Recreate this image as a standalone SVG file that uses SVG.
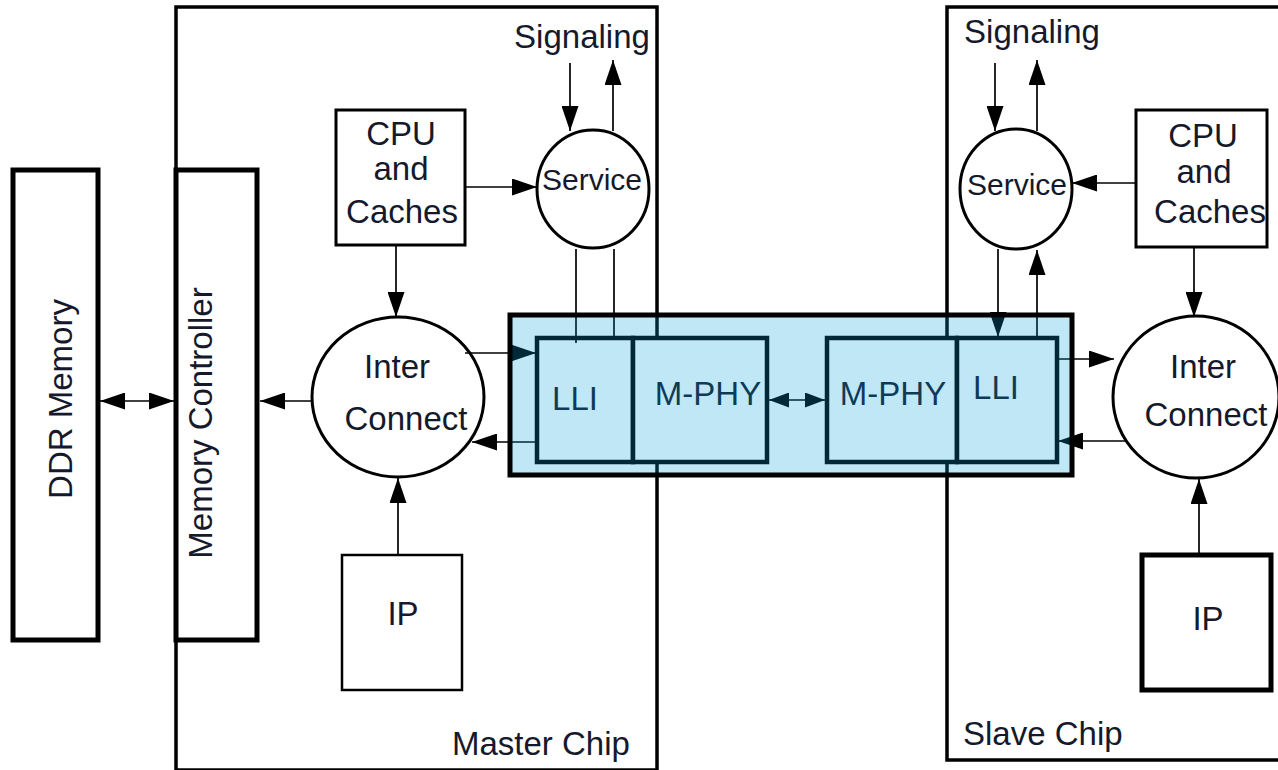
<svg xmlns="http://www.w3.org/2000/svg" width="1278" height="770" viewBox="0 0 1278 770">
<defs>
<marker id="ah" viewBox="0 0 25 17" refX="25" refY="8.5" markerWidth="25" markerHeight="17" markerUnits="userSpaceOnUse" orient="auto-start-reverse">
<path d="M0,0 L25,8.5 L0,17 z" fill="#000"/>
</marker>
<marker id="ahs" viewBox="0 0 20 15" refX="20" refY="7.5" markerWidth="20" markerHeight="15" markerUnits="userSpaceOnUse" orient="auto-start-reverse">
<path d="M0,0 L20,7.5 L0,15 z" fill="#000"/>
</marker>
<style>
text{font-family:"Liberation Sans",Arial,sans-serif;fill:#15192b;font-size:33px}
.mid{text-anchor:middle}
.chip{fill:none;stroke:#000;stroke-width:3.5}
.thick{fill:#fff;stroke:#000;stroke-width:5}
.box{fill:#fff;stroke:#000;stroke-width:3}
.circ{fill:#fff;stroke:#000;stroke-width:3}
.lb{fill:#fff;stroke:#000;stroke-width:4.5}
.c{fill:none;stroke:#000;stroke-width:1.7}
.a{marker-end:url(#ah)}
.a2{marker-start:url(#ah);marker-end:url(#ah)}
.a2s{marker-start:url(#ahs);marker-end:url(#ahs)}
</style>
</defs>
<rect width="1278" height="770" fill="#fff"/>

<g id="master-chip">
<rect class="chip" x="176" y="7" width="481" height="763"/>
<text x="452" y="755">Master Chip</text>
</g>
<g id="slave-chip">
<rect class="chip" x="947" y="7" width="340" height="753"/>
<text x="963" y="745">Slave Chip</text>
</g>

<g id="ddr-memory">
<rect class="thick" x="13" y="170" width="85" height="470"/>
<text class="mid" x="72" y="399" transform="rotate(-90 72 399)">DDR Memory</text>
</g>
<g id="memory-controller">
<rect class="thick" x="176" y="170" width="81" height="470"/>
<text class="mid" x="212" y="423" transform="rotate(-90 212 423)">Memory Controller</text>
</g>

<g id="master-cpu">
<rect class="box" x="336" y="110" width="129" height="135"/>
<text class="mid" x="401" y="145">CPU</text>
<text class="mid" x="401" y="180">and</text>
<text class="mid" x="402" y="223">Caches</text>
</g>
<g id="master-service">
<ellipse class="circ" cx="593" cy="189" rx="56" ry="59"/>
<text class="mid" x="592" y="190" style="font-size:30px">Service</text>
</g>
<text id="master-signaling" class="mid" x="582" y="48">Signaling</text>
<g id="master-interconnect">
<ellipse class="circ" cx="398" cy="397" rx="86" ry="80"/>
<text class="mid" x="397" y="378">Inter</text>
<text class="mid" x="406" y="430">Connect</text>
</g>
<g id="master-ip">
<rect class="box" x="342" y="555" width="120" height="135" style="stroke-width:2.5"/>
<text class="mid" x="403" y="625">IP</text>
</g>

<g id="slave-cpu">
<rect class="box" x="1136" y="110" width="131" height="137"/>
<text class="mid" x="1203" y="147">CPU</text>
<text class="mid" x="1204" y="183">and</text>
<text class="mid" x="1210" y="223">Caches</text>
</g>
<g id="slave-service">
<ellipse class="circ" cx="1016" cy="189" rx="56" ry="60"/>
<text class="mid" x="1017" y="195" style="font-size:30px">Service</text>
</g>
<text id="slave-signaling" class="mid" x="1032" y="43">Signaling</text>
<g id="slave-interconnect">
<ellipse class="circ" cx="1196" cy="397" rx="83" ry="81"/>
<text class="mid" x="1203" y="378">Inter</text>
<text class="mid" x="1206" y="426">Connect</text>
</g>
<g id="slave-ip">
<rect class="thick" x="1142" y="555" width="129" height="135"/>
<text class="mid" x="1208" y="630">IP</text>
</g>

<g id="master-lli">
<rect class="lb" x="537" y="338" width="96" height="124"/>
<text class="mid" x="575" y="410">LLI</text>
</g>
<g id="master-mphy">
<rect class="lb" x="633" y="338" width="134" height="124"/>
<text class="mid" x="708" y="405">M-PHY</text>
</g>
<g id="slave-mphy">
<rect class="lb" x="827" y="338" width="130" height="124"/>
<text class="mid" x="893" y="405">M-PHY</text>
</g>
<g id="slave-lli">
<rect class="lb" x="957" y="338" width="100" height="124"/>
<text class="mid" x="996" y="399">LLI</text>
</g>

<g id="connectors">
<line class="c a2" x1="100" y1="401" x2="174" y2="401"/>
<line class="c a" x1="312" y1="401" x2="260" y2="401"/>
<line class="c a" x1="396" y1="246" x2="396" y2="317"/>
<line class="c a" x1="398" y1="555" x2="398" y2="478"/>
<line class="c a" x1="465" y1="187" x2="537" y2="187"/>
<line class="c a" x1="570" y1="63" x2="570" y2="131"/>
<line class="c a" x1="613" y1="131" x2="613" y2="60"/>
<line class="c" x1="576" y1="249" x2="576" y2="343"/>
<line class="c" x1="614" y1="249" x2="614" y2="338"/>
<line class="c a" x1="465" y1="353" x2="536" y2="353"/>
<line class="c a" x1="537" y1="442" x2="472" y2="442"/>
<line class="c a2s" x1="769" y1="400" x2="825" y2="400"/>
<line class="c a" x1="995" y1="63" x2="995" y2="131"/>
<line class="c a" x1="1037" y1="131" x2="1037" y2="60"/>
<line class="c a" x1="1136" y1="183" x2="1072" y2="183"/>
<line class="c a" x1="998" y1="249" x2="998" y2="337"/>
<line class="c a" x1="1037" y1="338" x2="1037" y2="250"/>
<line class="c a" x1="1194" y1="247" x2="1194" y2="317"/>
<line class="c a" x1="1199" y1="555" x2="1199" y2="479"/>
<line class="c a" x1="1057" y1="359" x2="1114" y2="359"/>
<line class="c a" x1="1125" y1="441" x2="1058" y2="441"/>
</g>

<g id="lli-link">
<rect x="510" y="315" width="562" height="160" fill="rgb(0,160,220)" fill-opacity="0.25"/>
<rect x="510" y="315" width="562" height="160" fill="none" stroke="#000" stroke-width="5"/>
</g>
</svg>
